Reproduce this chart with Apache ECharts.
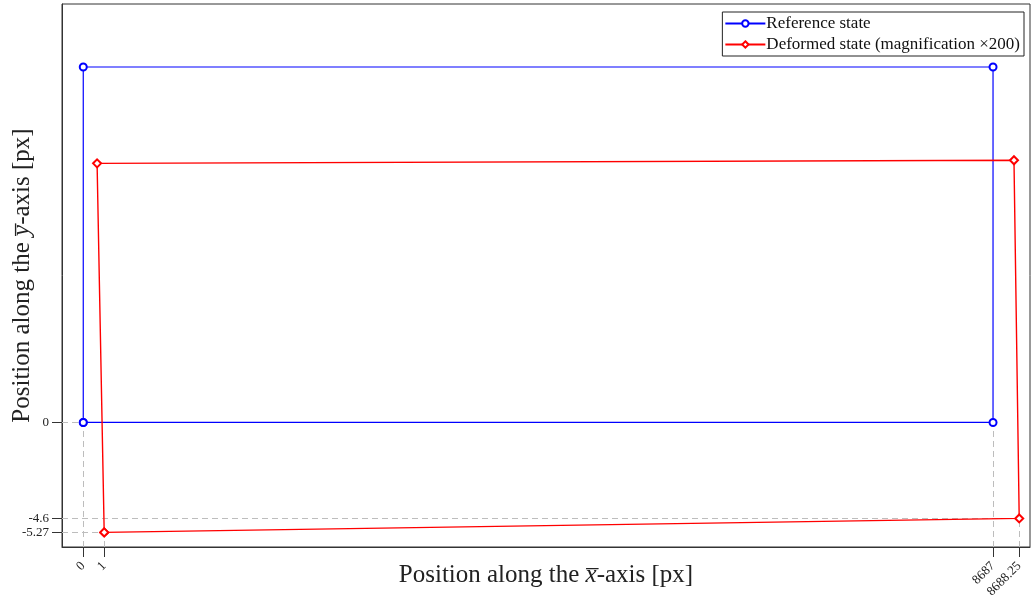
<!DOCTYPE html>
<html>
<head>
<meta charset="utf-8">
<script src="https://cdn.jsdelivr.net/npm/echarts@6/dist/echarts.min.js"></script>
<style>html,body{margin:0;padding:0;background:#fff}#c{width:1032px;height:599px}</style>
</head>
<body>
<div id="c"></div>
<script>
// Reference node coordinates (px): bottom-left, bottom-right, top-right, top-left
const refX = [0, 8687, 8687, 0];
const refY = [0, 0, 3408, 3408];
// Nodal displacements (px)
const dispU = [1, 1.25, 1.0, 0.66];
const dispV = [-5.27, -4.6, -4.47, -4.62];
const magnification = 200;
// Tick values (actual coordinates) and labels
const xTickValues = [0, 1, 8687, 8688.25];
const xTickLabels = ['0', '1', '8687', '8688.25'];
const yTickValues = [0, -4.6, -5.27];
const yTickLabels = ['0', '-4.6', '-5.27'];

// map actual coordinate -> plotted (magnified) coordinate around its reference
const xTickRef = [0, 0, 8687, 8687];
const yTickRef = [0, 0, 0];
const xTickPos = xTickValues.map((v, i) => xTickRef[i] + (v - xTickRef[i]) * magnification);
const yTickPos = yTickValues.map((v, i) => yTickRef[i] + (v - yTickRef[i]) * magnification);

const order = [0, 1, 2, 3, 0];
const refData = order.map(i => [refX[i], refY[i]]);
const defData = order.map(i => [refX[i] + dispU[i] * magnification, refY[i] + dispV[i] * magnification]);

const xMin = -203, xMax = 9040, yMin = -1194, yMax = 4012;

function near(a, b) { return Math.abs(a - b) < 1e-6; }
const guide = { color: '#bdbdbd', type: [6, 4], width: 1 };
const guideLines = [];
// vertical guides: from x-axis up to node
const vPts = [[0, 0], [defData[0][0], defData[0][1]], [8687, 0], [defData[1][0], defData[1][1]]];
vPts.forEach(p => guideLines.push([{ coord: [p[0], yMin] }, { coord: [p[0], p[1]] }]));
// horizontal guides: from y-axis to node
const hPts = [[0, 0], [defData[1][0], defData[1][1]], [defData[0][0], defData[0][1]]];
hPts.forEach(p => guideLines.push([{ coord: [xMin, p[1]] }, { coord: [p[0], p[1]] }]));

const serif = 'Liberation Serif';
const nameRich = { t: { fontFamily: serif, fontSize: 25, color: '#222' }, i: { fontFamily: serif, fontSize: 25, fontStyle: 'italic', color: '#222' } };
const chart = echarts.init(document.getElementById('c'));
chart.setOption({
  animation: false,
  backgroundColor: '#fff',
  grid: { left: 62, top: 4, right: 2, bottom: 52, show: true, borderColor: '#333', borderWidth: 1, containLabel: false, outerBoundsMode: 'none' },
  legend: {
    right: 8, top: 12, orient: 'vertical', itemGap: 4,
    itemWidth: 40, itemHeight: 8,
    padding: [3, 4, 3, 2],
    borderColor: '#222', borderWidth: 1, backgroundColor: '#fff',
    textStyle: { fontFamily: serif, fontSize: 17, color: '#111', padding: [0, 0, 0, -4] },
    data: ['Reference state', 'Deformed state (magnification \u00d7200)']
  },
  xAxis: {
    type: 'value', min: xMin, max: xMax,
    name: '{t|Position along the }{i|x\u0305}{t|-axis [px]}',
    nameLocation: 'middle', nameGap: 16, nameMoveOverlap: false,
    nameTextStyle: { rich: nameRich },
    axisLine: { show: true, onZero: false, lineStyle: { color: '#333' } },
    axisTick: { show: true, length: 10, customValues: xTickPos, lineStyle: { color: '#333' } },
    axisLabel: {
      customValues: xTickPos, rotate: 45, fontFamily: serif, fontSize: 13, color: '#222', margin: 17,
      formatter: v => { const i = xTickPos.findIndex(p => near(p, v)); return i >= 0 ? xTickLabels[i] : ''; }
    },
    splitLine: { show: false }
  },
  yAxis: {
    type: 'value', min: yMin, max: yMax,
    name: '{t|Position along the }{i|y\u0305}{t|-axis [px]}',
    nameLocation: 'middle', nameGap: 27, nameRotate: 90, nameMoveOverlap: false,
    nameTextStyle: { rich: nameRich },
    axisLine: { show: true, onZero: false, lineStyle: { color: '#333' } },
    axisTick: { show: true, length: 10, customValues: yTickPos, lineStyle: { color: '#333' } },
    axisLabel: {
      customValues: yTickPos, fontFamily: serif, fontSize: 13, color: '#222', margin: 13,
      formatter: v => { const i = yTickPos.findIndex(p => near(p, v)); return i >= 0 ? yTickLabels[i] : ''; }
    },
    splitLine: { show: false }
  },
  series: [
    {
      name: 'Reference state', type: 'line', data: refData, z: 3,
      symbol: 'emptyCircle', symbolSize: 7, showAllSymbol: true,
      lineStyle: { color: '#0000ff', width: 1.2 },
      itemStyle: { color: '#0000ff', borderWidth: 1 },
      markLine: { silent: true, symbol: 'none', label: { show: false }, lineStyle: guide, data: guideLines, z: 1 }
    },
    {
      name: 'Deformed state (magnification \u00d7200)', type: 'line', data: defData, z: 4,
      symbol: 'emptyDiamond', symbolSize: 8, showAllSymbol: true,
      lineStyle: { color: '#ff0000', width: 1.4 },
      itemStyle: { color: '#ff0000', borderWidth: 1.4 }
    }
  ]
});
</script>
</body>
</html>
